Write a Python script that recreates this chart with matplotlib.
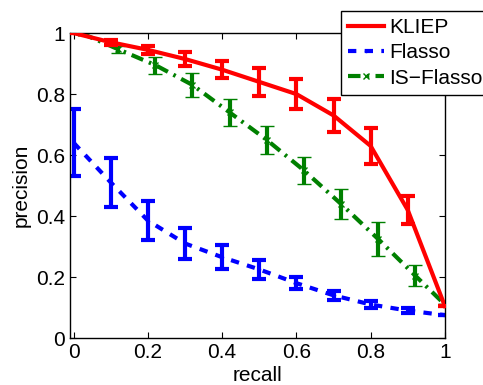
import matplotlib
matplotlib.use("Agg")
import matplotlib.pyplot as plt

plt.rcParams['font.family'] = ['Liberation Sans', 'DejaVu Sans']

recall_kliep = [0.0, 0.1, 0.2, 0.3, 0.4, 0.5, 0.6, 0.7, 0.8, 0.9, 1.0]
prec_kliep = [1.0, 0.97, 0.945, 0.915, 0.88, 0.84, 0.80, 0.73, 0.63, 0.42, 0.105]
err_kliep = [0.0, 0.008, 0.012, 0.022, 0.028, 0.045, 0.05, 0.055, 0.06, 0.045, 0.0]

recall_flasso = [0.0, 0.1, 0.2, 0.3, 0.4, 0.5, 0.6, 0.7, 0.8, 0.9, 1.0]
prec_flasso = [0.64, 0.51, 0.385, 0.31, 0.265, 0.225, 0.18, 0.14, 0.11, 0.09, 0.075]
err_flasso = [0.11, 0.08, 0.065, 0.05, 0.04, 0.03, 0.02, 0.015, 0.01, 0.007, 0.0]

recall_is = [0.02, 0.12, 0.22, 0.32, 0.42, 0.52, 0.62, 0.72, 0.82, 0.92, 1.0]
prec_is = [1.0, 0.947, 0.895, 0.83, 0.74, 0.65, 0.55, 0.44, 0.325, 0.205, 0.11]
err_is = [0.0, 0.012, 0.028, 0.04, 0.045, 0.045, 0.045, 0.05, 0.055, 0.035, 0.0]

xticks = [0, 0.2, 0.4, 0.6, 0.8, 1]
xticklabels = ['0', '0.2', '0.4', '0.6', '0.8', '1']
yticks = [0, 0.2, 0.4, 0.6, 0.8, 1]
yticklabels = ['0', '0.2', '0.4', '0.6', '0.8', '1']

fig = plt.figure(figsize=(4.83, 3.85), dpi=100)
ax = fig.add_axes([0.145, 0.122, 0.776, 0.792])

green = (0, 0.5, 0)
c1 = ax.errorbar(recall_kliep, prec_kliep, yerr=err_kliep, color='red', lw=3,
                 elinewidth=3, capsize=5, capthick=3, label='KLIEP', zorder=3)
c2 = ax.errorbar(recall_flasso, prec_flasso, yerr=err_flasso, color='blue', lw=3,
                 ls=(0, (2, 2)), elinewidth=3, capsize=5, capthick=3,
                 marker='.', markersize=3, label='Flasso', zorder=2)
c3 = ax.errorbar(recall_is, prec_is, yerr=err_is, color=green, lw=3,
                 ls=(0, (3, 1.5, 0.6, 1.5)), elinewidth=3, capsize=5, capthick=3,
                 marker='x', markersize=4, markeredgewidth=1, label='IS\u2212Flasso', zorder=2)

ax.set_xlim(-0.01, 1.0)
ax.set_ylim(0, 1.0)
ax.set_xticks(xticks)
ax.set_xticklabels(xticklabels)
ax.set_yticks(yticks)
ax.set_yticklabels(yticklabels)
ax.tick_params(direction='in', top=True, right=True, labelsize=15, length=4, width=0.8)
for s in ax.spines.values():
    s.set_linewidth(1)
ax.set_xlabel('recall', fontsize=15, labelpad=3)
ax.set_ylabel('precision', fontsize=15, labelpad=4)

leg = fig.legend([c1[0], c2[0], c3[0]], ['KLIEP', 'Flasso', 'IS\u2212Flasso'],
                 loc='upper left', bbox_to_anchor=(0.706, 0.972), fontsize=15,
                 frameon=True, fancybox=False, edgecolor='black', framealpha=1,
                 handlelength=1.7, handletextpad=0.25, borderpad=0.35, labelspacing=0.3,
                 borderaxespad=0)
leg.get_frame().set_linewidth(1)

fig.savefig('out.png', dpi=100)
